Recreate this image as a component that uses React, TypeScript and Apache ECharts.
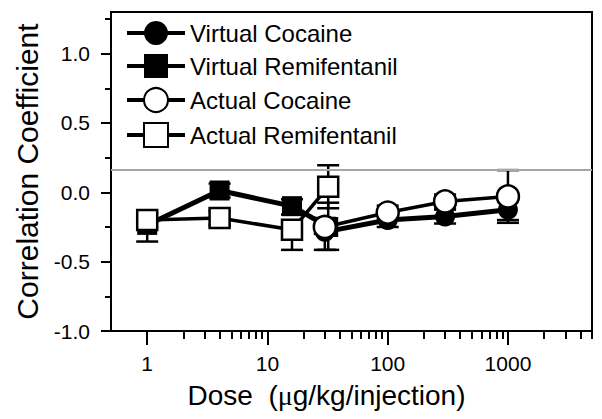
import React, { useEffect, useRef } from "react";
import * as echarts from "echarts";

// ---- data ----
const cocaineDoses = [30, 100, 300, 1000];
const remiDoses = [1, 4, 16, 32];

const virtualCocaine = [-0.285, -0.2, -0.175, -0.125];
const virtualCocaineErrUp = [0.1, 0.05, 0.05, 0.09];
const virtualCocaineErrDown = [0.13, 0.05, 0.05, 0.095];

const virtualRemi = [-0.235, 0.013, -0.1, -0.25];
const virtualRemiErrUp = [0.05, 0.05, 0.05, 0.175];
const virtualRemiErrDown = [0.12, 0.05, 0.06, 0.165];

const actualCocaine = [-0.25, -0.146, -0.066, -0.03];
const actualCocaineErrUp = [0.05, 0.05, 0.05, 0.19];
const actualCocaineErrDown = [0.05, 0.05, 0.05, 0.17];

const actualRemi = [-0.2, -0.186, -0.27, 0.04];
const actualRemiErrUp = [0.05, 0.05, 0.05, 0.155];
const actualRemiErrDown = [0.05, 0.05, 0.145, 0.155];

const referenceLine = 0.16;

const yMajorTicks = [-1, -0.5, 0, 0.5, 1];
const yMinorTicks = [-0.75, -0.25, 0.25, 0.75, 1.25];
const xMajorTicks = [1, 10, 100, 1000];
const xMinorTicks = [
  2, 3, 4, 5, 6, 7, 8, 9,
  20, 30, 40, 50, 60, 70, 80, 90,
  200, 300, 400, 500, 600, 700, 800, 900,
  2000, 3000, 4000, 5000,
];

const seriesNames = [
  "Virtual Cocaine",
  "Virtual Remifentanil",
  "Actual Cocaine",
  "Actual Remifentanil",
];

const FONT = "Liberation Sans, Arial, sans-serif";

function pairs(xs: number[], ys: number[]) {
  return xs.map((x, i) => [x, ys[i]]);
}
function errData(xs: number[], ys: number[], up: number[], down: number[]) {
  return xs.map((x, i) => [x, ys[i] - down[i], ys[i] + up[i]]);
}

function errorSeries(data: number[][]) {
  return {
    type: "custom",
    xAxisIndex: 0,
    yAxisIndex: 0,
    z: 1,
    silent: true,
    encode: { x: 0, y: [1, 2] },
    data,
    renderItem: (params: any, api: any) => {
      const x = api.value(0);
      const lo = api.coord([x, api.value(1)]);
      const hi = api.coord([x, api.value(2)]);
      const hw = 11;
      const st = { stroke: "#000", lineWidth: 2.5 };
      return {
        type: "group",
        children: [
          { type: "line", shape: { x1: lo[0], y1: lo[1], x2: hi[0], y2: hi[1] }, style: st },
          { type: "line", shape: { x1: lo[0] - hw, y1: lo[1], x2: lo[0] + hw, y2: lo[1] }, style: st },
          { type: "line", shape: { x1: hi[0] - hw, y1: hi[1], x2: hi[0] + hw, y2: hi[1] }, style: st },
        ],
      };
    },
  };
}

export default function App() {
  const ref = useRef<HTMLDivElement>(null);
  useEffect(() => {
    document.body.style.margin = "0";
    const chart = echarts.init(ref.current!, null, { renderer: "svg" });
    const filled = { color: "#000", borderColor: "#000", borderWidth: 0 };
    const open = { color: "#fff", borderColor: "#000", borderWidth: 2.5 };
    chart.setOption({
      animation: false,
      backgroundColor: "#fff",
      grid: {
        left: 111,
        top: 12,
        right: 10,
        bottom: 88,
        show: true,
        borderColor: "#000",
        borderWidth: 2,
        backgroundColor: "transparent",
      },
      legend: {
        orient: "vertical",
        left: 125,
        top: 21,
        padding: 0,
        itemWidth: 58,
        itemHeight: 30,
        itemGap: 9,
        data: seriesNames,
        textStyle: { fontSize: 24, fontFamily: FONT, color: "#000" },
        lineStyle: { width: 4, color: "#000" },
      },
      xAxis: [
        {
          type: "log",
          logBase: 10,
          min: 0.5,
          max: 5000,
          position: "bottom",
          name: "Dose  ({mu|μ}g/kg/injection)",
          nameLocation: "middle",
          nameGap: 50,
          nameTextStyle: {
            fontSize: 28,
            fontFamily: FONT,
            color: "#000",
            padding: [0, 50, 0, 0],
            rich: { mu: { fontSize: 28, fontFamily: "Liberation Serif, serif", color: "#000" } },
          },
          axisLine: { show: true, onZero: false, lineStyle: { color: "#000", width: 2 } },
          axisTick: { show: true, length: 14, lineStyle: { color: "#000", width: 2 }, customValues: xMajorTicks },
          axisLabel: {
            show: true,
            customValues: xMajorTicks,
            fontSize: 21,
            fontFamily: FONT,
            color: "#000",
            margin: 22,
            formatter: (v: number) => String(Math.round(v)),
          },
          splitLine: { show: false },
        },
        {
          type: "log",
          logBase: 10,
          min: 0.5,
          max: 5000,
          position: "bottom",
          offset: 0,
          axisLine: { show: false, onZero: false },
          axisTick: { show: true, length: 8, lineStyle: { color: "#000", width: 2 }, customValues: xMinorTicks },
          axisLabel: { show: false },
          splitLine: { show: false },
        },
      ],
      yAxis: [
        {
          type: "value",
          min: -1,
          max: 1.3,
          position: "left",
          name: "Correlation Coefficient",
          nameLocation: "middle",
          nameGap: 68,
          nameTextStyle: { fontSize: 30, fontFamily: FONT, color: "#000" },
          axisLine: { show: true, onZero: false, lineStyle: { color: "#000", width: 2 } },
          axisTick: { show: true, length: 10, lineStyle: { color: "#000", width: 2 }, customValues: yMajorTicks },
          axisLabel: {
            show: true,
            customValues: yMajorTicks,
            fontSize: 21,
            fontFamily: FONT,
            color: "#000",
            margin: 21,
            formatter: (v: number) => v.toFixed(1),
          },
          splitLine: { show: false },
        },
        {
          type: "value",
          min: -1,
          max: 1.3,
          position: "left",
          offset: 0,
          axisLine: { show: false, onZero: false },
          axisTick: { show: true, length: 6, lineStyle: { color: "#000", width: 2 }, customValues: yMinorTicks },
          axisLabel: { show: false },
          splitLine: { show: false },
        },
      ],
      series: [
        errorSeries(errData(cocaineDoses, virtualCocaine, virtualCocaineErrUp, virtualCocaineErrDown)),
        errorSeries(errData(remiDoses, virtualRemi, virtualRemiErrUp, virtualRemiErrDown)),
        errorSeries(errData(cocaineDoses, actualCocaine, actualCocaineErrUp, actualCocaineErrDown)),
        errorSeries(errData(remiDoses, actualRemi, actualRemiErrUp, actualRemiErrDown)),
        {
          name: seriesNames[0],
          type: "line",
          z: 2,
          data: pairs(cocaineDoses, virtualCocaine),
          symbol: "circle",
          symbolSize: 20,
          itemStyle: filled,
          lineStyle: { color: "#000", width: 5 },
          markLine: {
            silent: true,
            symbol: "none",
            label: { show: false },
            lineStyle: { color: "#a6a6a6", width: 2, type: "solid" },
            data: [{ yAxis: referenceLine }],
          },
        },
        {
          name: seriesNames[1],
          type: "line",
          z: 3,
          data: pairs(remiDoses, virtualRemi),
          symbol: "rect",
          symbolSize: 20,
          itemStyle: filled,
          lineStyle: { color: "#000", width: 5 },
        },
        {
          name: seriesNames[2],
          type: "line",
          z: 4,
          data: pairs(cocaineDoses, actualCocaine),
          symbol: "circle",
          symbolSize: 22,
          showAllSymbol: true,
          itemStyle: open,
          lineStyle: { color: "#000", width: 3.5 },
        },
        {
          name: seriesNames[3],
          type: "line",
          z: 5,
          data: pairs(remiDoses, actualRemi),
          symbol: "rect",
          symbolSize: 20,
          itemStyle: open,
          lineStyle: { color: "#000", width: 3.5 },
        },
      ],
    });
    return () => chart.dispose();
  }, []);
  return <div ref={ref} style={{ width: 602, height: 419 }} />;
}
